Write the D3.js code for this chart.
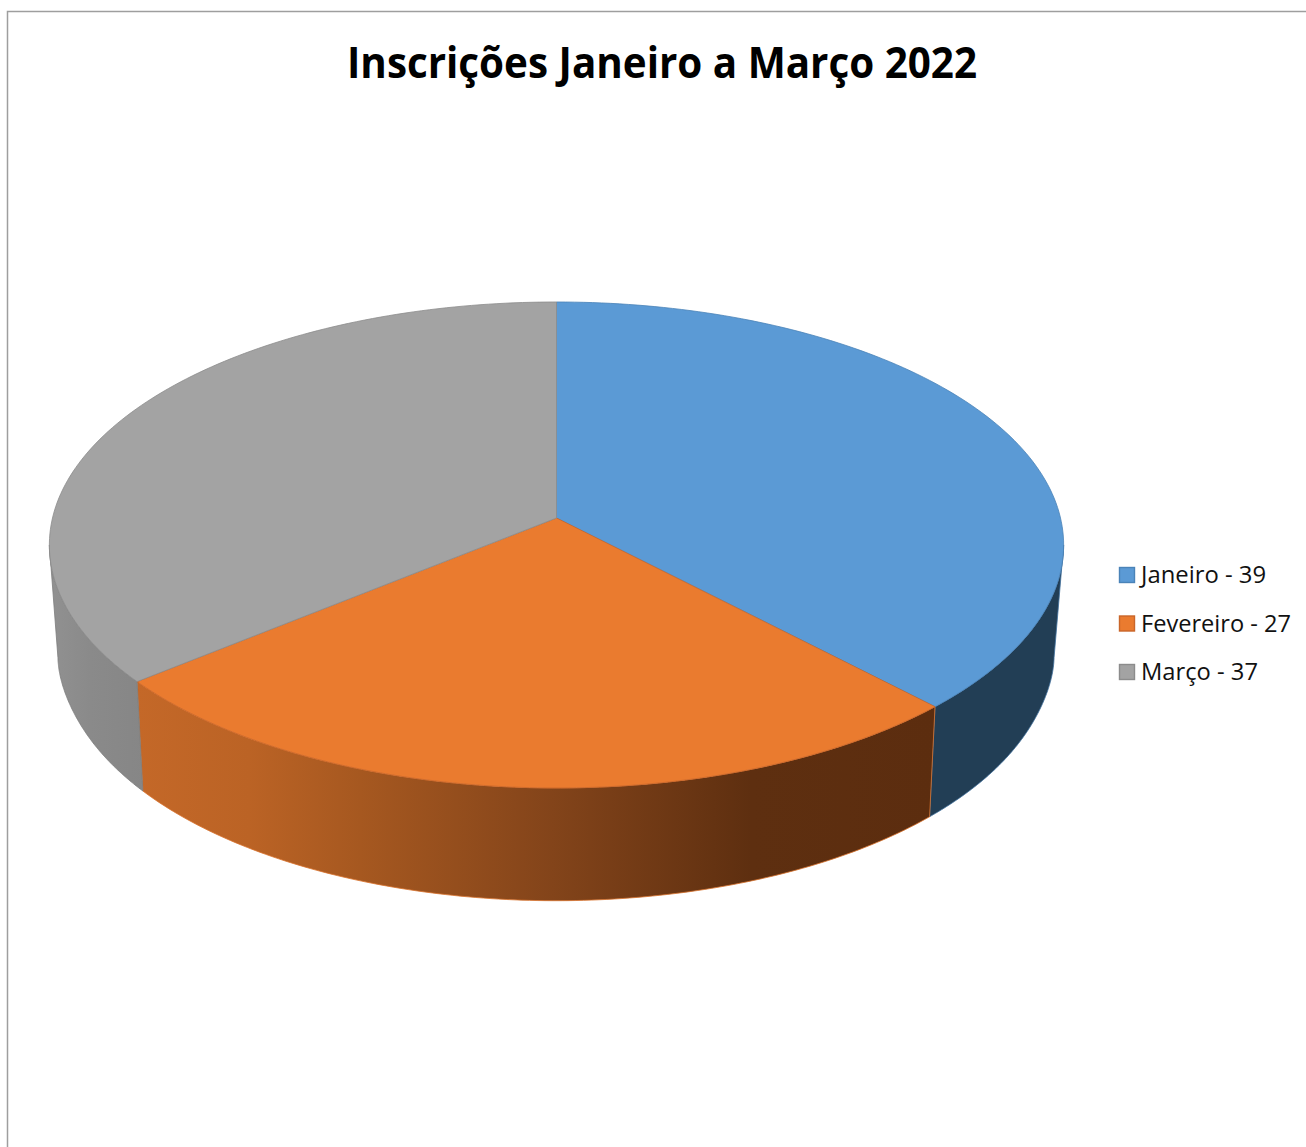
<!DOCTYPE html>
<html><head><meta charset="utf-8">
<script src="https://cdnjs.cloudflare.com/ajax/libs/d3/7.8.5/d3.min.js"></script>
<style>html,body{margin:0;padding:0;background:#fff;overflow:hidden}svg{display:block}</style>
</head><body><svg id="c" width="1306" height="1147"></svg>
<script>
const titleText = "Inscrições Janeiro a Março 2022";
const categories = ["Janeiro", "Fevereiro", "Março"];
const values = [39, 27, 37];
const topColors = ["#5b9ad5", "#ea7b2f", "#a3a3a3"];
const rimColors = ["#4a83b8", "#c9662a", "#8c8c8c"];
const legendWidths = [125, 150, 117];

const svg = d3.select("#c");
const defs = svg.append("defs");

// Perspective projection of the top and bottom discs
const topDisc = {cx:556.5, cy:518, b:504, a:240, k:0.111, bulge:0};
const botDisc = {cx:556, cy:626, b:490, a:239, k:0.13, bulge:0.008};
const project = (d, t) => {
  const u = Math.sin(t), v = -Math.cos(t), w = 1 - d.k * v;
  const s = 1 + d.bulge * Math.exp(-Math.pow((v - 0.1) / 0.2, 2));
  return [d.cx + d.b * s * u / w, d.cy + d.a * v / w];
};
const line = d3.line();
const arcPts = (d, t0, t1) => d3.range(0, 121).map(i => project(d, t0 + (t1 - t0) * i / 120));

const slices = d3.pie().sort(null).value(v => v)(values);

// Orange wall gradient
const grad = defs.append("linearGradient").attr("id","wallO")
  .attr("gradientUnits","userSpaceOnUse").attr("x1",137).attr("x2",935).attr("y1",0).attr("y2",0);
[[0,"#c46828"],[0.14,"#bb6325"],[0.28,"#a65820"],[0.52,"#83441a"],[0.77,"#5e2f10"],[1,"#5c2d0f"]]
  .forEach(s => grad.append("stop").attr("offset",s[0]).attr("stop-color",s[1]));
const gradG = defs.append("linearGradient").attr("id","wallG")
  .attr("gradientUnits","userSpaceOnUse").attr("x1",55).attr("x2",143).attr("y1",0).attr("y2",0);
[[0,"#909090"],[0.4,"#8a8a8a"],[1,"#868686"]]
  .forEach(s => gradG.append("stop").attr("offset",s[0]).attr("stop-color",s[1]));
const wallFill = ["#223e55", "url(#wallO)", "url(#wallG)"];

const wallRange = (s, i) => {
  if (i === 0) return [[Math.PI - Math.acos(topDisc.k), s.endAngle], [Math.PI - Math.acos(botDisc.k), s.endAngle]];
  if (i === 1) return [[s.startAngle, s.endAngle], [s.startAngle, s.endAngle]];
  return [[s.startAngle, Math.PI + Math.acos(topDisc.k)], [s.startAngle, Math.PI + Math.acos(botDisc.k)]];
};

// Walls
svg.append("g").selectAll("path").data(slices).join("path")
  .attr("d", (s, i) => {
    const [ta, ba] = wallRange(s, i);
    return line(arcPts(topDisc, ta[0], ta[1]).concat(arcPts(botDisc, ba[0], ba[1]).reverse())) + "Z";
  })
  .attr("fill", (s, i) => wallFill[i])
  .attr("stroke", (s, i) => ["#3f6f9c", "#d9722c", "#7c7c7c"][i])
  .attr("stroke-width", 0.8);

// Top faces
svg.append("g").selectAll("path").data(slices).join("path")
  .attr("d", s => line([[topDisc.cx, topDisc.cy]].concat(arcPts(topDisc, s.startAngle, s.endAngle))) + "Z")
  .attr("fill", (s, i) => topColors[i])
  .attr("stroke", (s, i) => rimColors[i])
  .attr("stroke-width", 0.8)
  .attr("stroke-linejoin", "round");

// Frame
svg.append("path").attr("d","M7.5,1147V11.5H1306").attr("fill","none").attr("stroke","#9e9e9e").attr("stroke-width",1.5);

// Title
svg.append("text").attr("x",347).attr("y",77.5)
  .attr("font-family","'Open Sans',sans-serif").attr("font-weight",700).attr("font-size",42.5)
  .attr("textLength",630).attr("lengthAdjust","spacingAndGlyphs").attr("fill","#000").text(titleText);

// Legend
const legendY = d3.scalePoint().domain(categories).range([575, 672]);
const lg = svg.append("g").selectAll("g").data(categories).join("g")
  .attr("transform", d => `translate(0,${legendY(d)})`);
lg.append("rect").attr("x",1119.5).attr("y",-7.5).attr("width",15).attr("height",15)
  .attr("fill",(d,i)=>topColors[i]).attr("stroke",(d,i)=>rimColors[i]).attr("stroke-width",1.4);
lg.append("text").attr("x",1141).attr("y",8)
  .attr("font-family","'Open Sans',sans-serif").attr("font-size",23.5).attr("fill","#111")
  .attr("textLength",(d,i)=>legendWidths[i]).attr("lengthAdjust","spacingAndGlyphs")
  .text((d,i)=>`${d} - ${values[i]}`);
</script></body></html>
